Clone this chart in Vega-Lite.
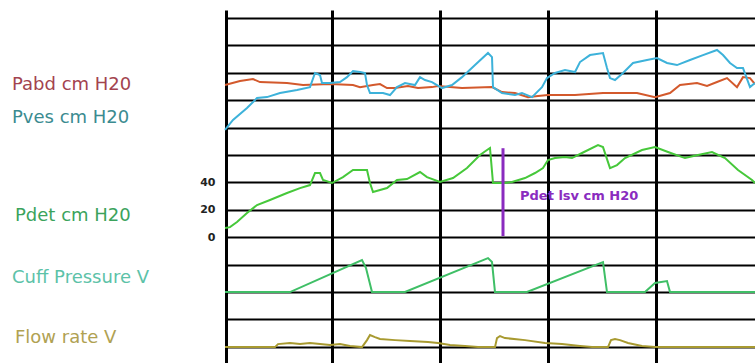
{
  "$schema": "https://vega.github.io/schema/vega-lite/v6.json",
  "width": 530,
  "height": 353,
  "autosize": {"type": "none"},
  "padding": {"left": 225, "top": 10, "right": 0, "bottom": 0},
  "background": "white",
  "config": {"view": {"stroke": null}},
  "datasets": {
    "traces": [
      {"series": "Pabd", "t": 0, "v": 111.1}, {"series": "Pabd", "t": 15, "v": 114.0}, {"series": "Pabd", "t": 28, "v": 115.5}, {"series": "Pabd", "t": 35, "v": 113.3}, {"series": "Pabd", "t": 62, "v": 112.6}, {"series": "Pabd", "t": 78, "v": 111.1}, {"series": "Pabd", "t": 105, "v": 111.8}, {"series": "Pabd", "t": 128, "v": 111.1}, {"series": "Pabd", "t": 135, "v": 109.6}, {"series": "Pabd", "t": 148, "v": 111.1}, {"series": "Pabd", "t": 155, "v": 111.8}, {"series": "Pabd", "t": 162, "v": 108.9}, {"series": "Pabd", "t": 170, "v": 108.9}, {"series": "Pabd", "t": 183, "v": 110.4}, {"series": "Pabd", "t": 193, "v": 108.9}, {"series": "Pabd", "t": 207, "v": 109.6}, {"series": "Pabd", "t": 213, "v": 110.4}, {"series": "Pabd", "t": 237, "v": 108.9}, {"series": "Pabd", "t": 267, "v": 109.6}, {"series": "Pabd", "t": 277, "v": 106.0}, {"series": "Pabd", "t": 290, "v": 105.3}, {"series": "Pabd", "t": 303, "v": 102.3}, {"series": "Pabd", "t": 313, "v": 103.1}, {"series": "Pabd", "t": 323, "v": 103.8}, {"series": "Pabd", "t": 350, "v": 103.8}, {"series": "Pabd", "t": 378, "v": 105.3}, {"series": "Pabd", "t": 412, "v": 105.3}, {"series": "Pabd", "t": 430, "v": 102.3}, {"series": "Pabd", "t": 445, "v": 105.3}, {"series": "Pabd", "t": 455, "v": 111.1}, {"series": "Pabd", "t": 472, "v": 112.6}, {"series": "Pabd", "t": 482, "v": 110.4}, {"series": "Pabd", "t": 492, "v": 113.3}, {"series": "Pabd", "t": 502, "v": 116.2}, {"series": "Pabd", "t": 512, "v": 109.6}, {"series": "Pabd", "t": 518, "v": 116.9}, {"series": "Pabd", "t": 525, "v": 116.2}, {"series": "Pabd", "t": 530, "v": 111.8},

      {"series": "Pves", "t": 0, "v": 78.3}, {"series": "Pves", "t": 8, "v": 85.6}, {"series": "Pves", "t": 22, "v": 94.3}, {"series": "Pves", "t": 32, "v": 101.6}, {"series": "Pves", "t": 42, "v": 102.3}, {"series": "Pves", "t": 55, "v": 105.3}, {"series": "Pves", "t": 72, "v": 107.5}, {"series": "Pves", "t": 85, "v": 109.6}, {"series": "Pves", "t": 90, "v": 119.9}, {"series": "Pves", "t": 95, "v": 118.4}, {"series": "Pves", "t": 97, "v": 112.6}, {"series": "Pves", "t": 105, "v": 112.6}, {"series": "Pves", "t": 115, "v": 113.3}, {"series": "Pves", "t": 122, "v": 116.9}, {"series": "Pves", "t": 128, "v": 121.4}, {"series": "Pves", "t": 135, "v": 120.6}, {"series": "Pves", "t": 140, "v": 119.9}, {"series": "Pves", "t": 142, "v": 111.1}, {"series": "Pves", "t": 145, "v": 105.3}, {"series": "Pves", "t": 158, "v": 105.3}, {"series": "Pves", "t": 165, "v": 103.8}, {"series": "Pves", "t": 172, "v": 109.6}, {"series": "Pves", "t": 180, "v": 112.6}, {"series": "Pves", "t": 190, "v": 111.1}, {"series": "Pves", "t": 195, "v": 116.9}, {"series": "Pves", "t": 200, "v": 114.8}, {"series": "Pves", "t": 207, "v": 113.3}, {"series": "Pves", "t": 217, "v": 108.9}, {"series": "Pves", "t": 227, "v": 111.1}, {"series": "Pves", "t": 237, "v": 116.9}, {"series": "Pves", "t": 250, "v": 125.7}, {"series": "Pves", "t": 263, "v": 134.5}, {"series": "Pves", "t": 267, "v": 131.5}, {"series": "Pves", "t": 268, "v": 109.6}, {"series": "Pves", "t": 277, "v": 105.3}, {"series": "Pves", "t": 290, "v": 103.8}, {"series": "Pves", "t": 297, "v": 105.3}, {"series": "Pves", "t": 307, "v": 102.3}, {"series": "Pves", "t": 317, "v": 109.6}, {"series": "Pves", "t": 322, "v": 116.2}, {"series": "Pves", "t": 330, "v": 119.9}, {"series": "Pves", "t": 340, "v": 122.1}, {"series": "Pves", "t": 350, "v": 120.6}, {"series": "Pves", "t": 355, "v": 127.9}, {"series": "Pves", "t": 365, "v": 133.0}, {"series": "Pves", "t": 378, "v": 134.5}, {"series": "Pves", "t": 382, "v": 123.5}, {"series": "Pves", "t": 385, "v": 116.2}, {"series": "Pves", "t": 390, "v": 114.8}, {"series": "Pves", "t": 398, "v": 119.9}, {"series": "Pves", "t": 408, "v": 127.2}, {"series": "Pves", "t": 422, "v": 129.4}, {"series": "Pves", "t": 432, "v": 130.8}, {"series": "Pves", "t": 442, "v": 127.2}, {"series": "Pves", "t": 452, "v": 125.7}, {"series": "Pves", "t": 465, "v": 129.4}, {"series": "Pves", "t": 478, "v": 133.0}, {"series": "Pves", "t": 492, "v": 136.7}, {"series": "Pves", "t": 498, "v": 133.0}, {"series": "Pves", "t": 505, "v": 127.2}, {"series": "Pves", "t": 512, "v": 123.5}, {"series": "Pves", "t": 518, "v": 123.5}, {"series": "Pves", "t": 525, "v": 109.6}, {"series": "Pves", "t": 530, "v": 112.6},

      {"series": "Pdet", "t": 0, "v": 6.7}, {"series": "Pdet", "t": 5, "v": 7.4}, {"series": "Pdet", "t": 12, "v": 11.1}, {"series": "Pdet", "t": 22, "v": 17.7}, {"series": "Pdet", "t": 32, "v": 23.5}, {"series": "Pdet", "t": 45, "v": 27.2}, {"series": "Pdet", "t": 62, "v": 32.3}, {"series": "Pdet", "t": 75, "v": 35.9}, {"series": "Pdet", "t": 85, "v": 38.1}, {"series": "Pdet", "t": 90, "v": 46.9}, {"series": "Pdet", "t": 95, "v": 46.9}, {"series": "Pdet", "t": 98, "v": 41.8}, {"series": "Pdet", "t": 107, "v": 39.6}, {"series": "Pdet", "t": 118, "v": 43.9}, {"series": "Pdet", "t": 128, "v": 49.1}, {"series": "Pdet", "t": 142, "v": 49.1}, {"series": "Pdet", "t": 145, "v": 39.6}, {"series": "Pdet", "t": 148, "v": 33.0}, {"series": "Pdet", "t": 162, "v": 35.9}, {"series": "Pdet", "t": 172, "v": 41.8}, {"series": "Pdet", "t": 182, "v": 42.5}, {"series": "Pdet", "t": 195, "v": 47.6}, {"series": "Pdet", "t": 202, "v": 43.9}, {"series": "Pdet", "t": 215, "v": 40.3}, {"series": "Pdet", "t": 228, "v": 43.2}, {"series": "Pdet", "t": 242, "v": 50.5}, {"series": "Pdet", "t": 255, "v": 60.0}, {"series": "Pdet", "t": 262, "v": 63.7}, {"series": "Pdet", "t": 265, "v": 65.1}, {"series": "Pdet", "t": 268, "v": 39.6}, {"series": "Pdet", "t": 280, "v": 39.6}, {"series": "Pdet", "t": 287, "v": 40.3}, {"series": "Pdet", "t": 300, "v": 43.2}, {"series": "Pdet", "t": 310, "v": 46.9}, {"series": "Pdet", "t": 318, "v": 50.5}, {"series": "Pdet", "t": 323, "v": 56.4}, {"series": "Pdet", "t": 330, "v": 57.8}, {"series": "Pdet", "t": 340, "v": 58.5}, {"series": "Pdet", "t": 347, "v": 57.8}, {"series": "Pdet", "t": 357, "v": 61.5}, {"series": "Pdet", "t": 373, "v": 67.3}, {"series": "Pdet", "t": 378, "v": 65.8}, {"series": "Pdet", "t": 385, "v": 50.5}, {"series": "Pdet", "t": 392, "v": 52.7}, {"series": "Pdet", "t": 400, "v": 57.8}, {"series": "Pdet", "t": 417, "v": 63.7}, {"series": "Pdet", "t": 430, "v": 65.8}, {"series": "Pdet", "t": 443, "v": 62.2}, {"series": "Pdet", "t": 460, "v": 57.8}, {"series": "Pdet", "t": 473, "v": 60.0}, {"series": "Pdet", "t": 487, "v": 62.2}, {"series": "Pdet", "t": 500, "v": 57.8}, {"series": "Pdet", "t": 513, "v": 49.1}, {"series": "Pdet", "t": 527, "v": 41.8}, {"series": "Pdet", "t": 530, "v": 39.6},

      {"series": "Cuff", "t": 0, "v": -40}, {"series": "Cuff", "t": 65, "v": -40}, {"series": "Cuff", "t": 137, "v": -16.6}, {"series": "Cuff", "t": 141, "v": -22.5}, {"series": "Cuff", "t": 147, "v": -40}, {"series": "Cuff", "t": 180, "v": -40}, {"series": "Cuff", "t": 263, "v": -15.2}, {"series": "Cuff", "t": 267, "v": -18.1}, {"series": "Cuff", "t": 270, "v": -40}, {"series": "Cuff", "t": 302, "v": -40}, {"series": "Cuff", "t": 378, "v": -18.1}, {"series": "Cuff", "t": 382, "v": -40}, {"series": "Cuff", "t": 420, "v": -40}, {"series": "Cuff", "t": 430, "v": -33.4}, {"series": "Cuff", "t": 442, "v": -32.0}, {"series": "Cuff", "t": 445, "v": -40}, {"series": "Cuff", "t": 530, "v": -40},

      {"series": "Flow", "t": 0, "v": -80.2}, {"series": "Flow", "t": 50, "v": -80.2}, {"series": "Flow", "t": 53, "v": -78.0}, {"series": "Flow", "t": 65, "v": -77.2}, {"series": "Flow", "t": 75, "v": -78.0}, {"series": "Flow", "t": 85, "v": -77.2}, {"series": "Flow", "t": 95, "v": -78.0}, {"series": "Flow", "t": 105, "v": -78.7}, {"series": "Flow", "t": 115, "v": -78.0}, {"series": "Flow", "t": 125, "v": -79.4}, {"series": "Flow", "t": 137, "v": -80.2}, {"series": "Flow", "t": 142, "v": -75.1}, {"series": "Flow", "t": 145, "v": -71.4}, {"series": "Flow", "t": 150, "v": -72.9}, {"series": "Flow", "t": 155, "v": -74.3}, {"series": "Flow", "t": 170, "v": -75.1}, {"series": "Flow", "t": 185, "v": -75.8}, {"series": "Flow", "t": 203, "v": -76.5}, {"series": "Flow", "t": 213, "v": -77.2}, {"series": "Flow", "t": 225, "v": -78.7}, {"series": "Flow", "t": 240, "v": -79.4}, {"series": "Flow", "t": 253, "v": -80.2}, {"series": "Flow", "t": 270, "v": -80.2}, {"series": "Flow", "t": 272, "v": -73.6}, {"series": "Flow", "t": 275, "v": -72.1}, {"series": "Flow", "t": 280, "v": -73.6}, {"series": "Flow", "t": 300, "v": -75.1}, {"series": "Flow", "t": 320, "v": -77.2}, {"series": "Flow", "t": 337, "v": -78.0}, {"series": "Flow", "t": 355, "v": -79.4}, {"series": "Flow", "t": 367, "v": -80.2}, {"series": "Flow", "t": 383, "v": -80.2}, {"series": "Flow", "t": 386, "v": -75.1}, {"series": "Flow", "t": 390, "v": -74.3}, {"series": "Flow", "t": 395, "v": -75.1}, {"series": "Flow", "t": 403, "v": -77.2}, {"series": "Flow", "t": 417, "v": -79.4}, {"series": "Flow", "t": 430, "v": -80.2}, {"series": "Flow", "t": 530, "v": -80.2}
    ],
    "labels": [
      {"label": "Pabd cm H20", "t": -213, "v": 111.1, "series": "Pabd"},
      {"label": "Pves cm H20", "t": -213, "v": 87.0, "series": "Pves"},
      {"label": "Pdet cm H20", "t": -210, "v": 15.5, "series": "Pdet"},
      {"label": "Cuff Pressure V", "t": -213, "v": -29.8, "series": "Cuff"},
      {"label": "Flow rate V", "t": -210, "v": -73.6, "series": "Flow"}
    ],
    "marker": [
      {"label": "Pdet lsv cm H20", "t": 278, "v": 65.0, "v2": 0.9, "tt": 295, "tv": 30.1}
    ]
  },
  "layer": [
    {
      "data": {"name": "traces"},
      "mark": {"type": "line", "strokeWidth": 2, "interpolate": "linear"},
      "encoding": {
        "x": {
          "field": "t", "type": "quantitative",
          "scale": {"domain": [0, 530], "nice": false, "zero": false},
          "axis": {"values": [1, 107, 215, 323, 431], "tickCount": 10, "grid": true, "gridColor": "#000000", "gridWidth": 3, "gridOpacity": 1, "labels": false, "ticks": false, "domain": false, "title": null}
        },
        "y": {
          "field": "v", "type": "quantitative",
          "scale": {"domain": [-91.8, 165.9], "nice": false, "zero": false},
          "axis": {"values": [-80, -60, -40, -20, 0, 20, 40, 60, 80, 100, 120, 140, 160], "tickCount": 30, "labelOverlap": false, "grid": true, "gridColor": "#000000", "gridWidth": 2, "gridOpacity": 1, "ticks": false, "domain": false, "title": null, "labelExpr": "datum.value >= 0 && datum.value <= 40 ? datum.label : ''", "labelFont": "DejaVu Sans", "labelFontWeight": "bold", "labelFontSize": 11, "labelColor": "#222222", "labelPadding": 10}
        },
        "color": {
          "field": "series", "type": "nominal",
          "scale": {"domain": ["Pabd", "Pves", "Pdet", "Cuff", "Flow"], "range": ["#d3592c", "#3db2da", "#46c83a", "#3fbf66", "#a89a30"]},
          "legend": null
        },
        "detail": {"field": "series"}
      }
    },
    {
      "data": {"name": "marker"},
      "mark": {"type": "rule", "color": "#8a2bbf", "strokeWidth": 3},
      "encoding": {
        "x": {"field": "t", "type": "quantitative"},
        "y": {"field": "v", "type": "quantitative"},
        "y2": {"field": "v2"}
      }
    },
    {
      "data": {"name": "marker"},
      "mark": {"type": "text", "color": "#8a2bbf", "font": "DejaVu Sans", "fontWeight": "bold", "fontSize": 13, "align": "left", "baseline": "middle"},
      "encoding": {
        "x": {"field": "tt", "type": "quantitative"},
        "y": {"field": "tv", "type": "quantitative"},
        "text": {"field": "label"}
      }
    },
    {
      "data": {"name": "labels"},
      "mark": {"type": "text", "font": "DejaVu Sans", "fontSize": 18, "align": "left", "baseline": "middle"},
      "encoding": {
        "x": {"field": "t", "type": "quantitative"},
        "y": {"field": "v", "type": "quantitative"},
        "text": {"field": "label"},
        "color": {
          "field": "series", "type": "nominal",
          "scale": {"domain": ["Pabd", "Pves", "Pdet", "Cuff", "Flow"], "range": ["#a3434f", "#3b8b90", "#3ba35c", "#5cc2a8", "#b0a152"]},
          "legend": null
        }
      }
    }
  ],
  "resolve": {"scale": {"color": "independent"}}
}
